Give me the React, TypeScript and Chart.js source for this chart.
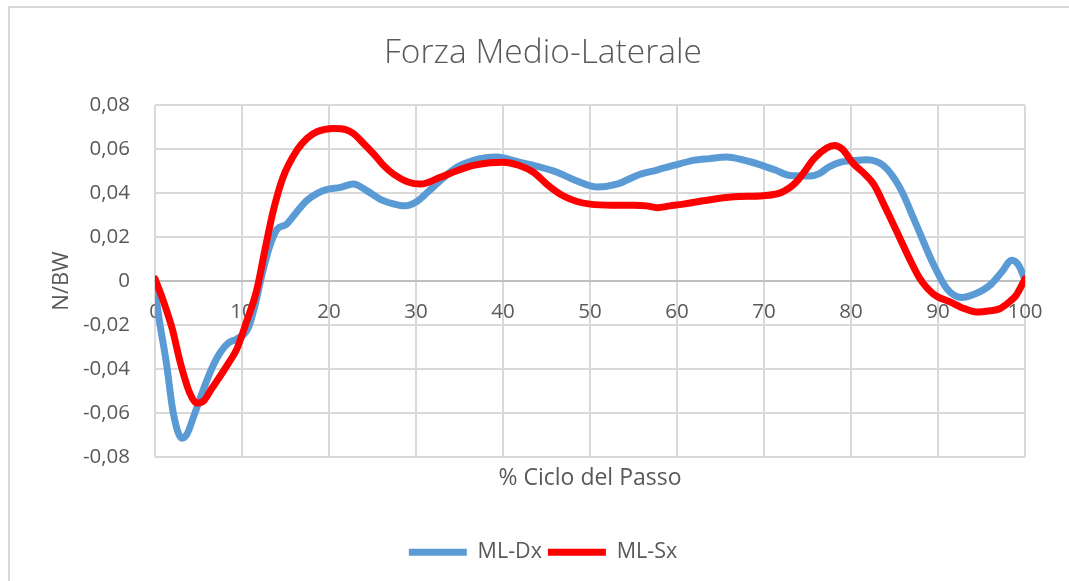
import React, { useEffect, useRef } from 'react';
import { Chart, registerables } from 'chart.js';

Chart.register(...registerables);

const chartTitle = 'Forza Medio-Laterale';
const xAxisTitle = '% Ciclo del Passo';
const yAxisTitle = 'N/BW';
const seriesNames = ['ML-Dx', 'ML-Sx'];

const dxX = [0, 0.5, 1.3, 2.1, 3.1, 3.7, 4.5, 5.5, 6.5, 7.5, 8.5, 9.4, 10.7, 11.5, 12.3, 13.2, 14, 15.1, 16.2, 17.4, 18.6, 19.7, 21.3, 22.8, 24.2, 25.9, 27.5, 28.7, 30.1, 31.5, 32.8, 34.6, 36.6, 38, 39.3, 41.5, 43.5, 46.2, 48.5, 50.8, 53.1, 55.7, 57.7, 59.6, 61.9, 63.8, 65.7, 67.5, 69.5, 71.3, 73, 75.3, 76.4, 77.5, 78.7, 80.3, 81.8, 83.7, 85.6, 87.5, 89.5, 91, 92.7, 94.3, 96, 97.3, 98.5, 99.3, 100];
const dxY = [-0.004, -0.018, -0.037, -0.06, -0.0715, -0.0695, -0.061, -0.05, -0.04, -0.0325, -0.028, -0.0264, -0.0215, -0.011, 0.003, 0.016, 0.0234, 0.0258, 0.031, 0.0365, 0.0398, 0.0416, 0.0426, 0.0441, 0.0415, 0.0372, 0.035, 0.0342, 0.0362, 0.041, 0.0457, 0.0515, 0.0549, 0.0561, 0.0564, 0.0545, 0.0526, 0.0495, 0.0455, 0.0428, 0.0441, 0.0485, 0.0505, 0.0526, 0.0549, 0.0557, 0.0564, 0.0552, 0.053, 0.0505, 0.048, 0.0478, 0.049, 0.052, 0.054, 0.0548, 0.0552, 0.0526, 0.0426, 0.0257, 0.0074, -0.0034, -0.0075, -0.0058, -0.0018, 0.004, 0.0095, 0.007, 0.0005];

const sxX = [0, 1, 2, 2.9, 4, 4.8, 5.6, 6.5, 7.5, 8.5, 9.4, 10.5, 11.7, 12.6, 13.6, 14.7, 16.3, 17.5, 18.6, 20.5, 22, 22.8, 24, 25.1, 26.3, 27.4, 29, 30.5, 32.8, 34.7, 36.6, 38.5, 40, 41.8, 43.5, 45.2, 46.9, 48.5, 50, 52.5, 55, 56.5, 57.7, 59.2, 60.7, 63, 66.5, 69.9, 71.8, 73, 73.8, 74.6, 75.7, 77.2, 78.1, 79, 80.3, 81.5, 82.6, 84, 85.6, 86.8, 87.9, 89.5, 91.4, 93, 94.4, 96, 97.1, 98.2, 99, 100];
const sxY = [0.001, -0.0095, -0.022, -0.037, -0.051, -0.0555, -0.0545, -0.049, -0.0432, -0.037, -0.031, -0.0187, -0.004, 0.0135, 0.032, 0.047, 0.0594, 0.065, 0.0679, 0.0694, 0.0688, 0.0671, 0.0625, 0.058, 0.0525, 0.0487, 0.0452, 0.0441, 0.0472, 0.0502, 0.0526, 0.0538, 0.0541, 0.0527, 0.0495, 0.0435, 0.0388, 0.0362, 0.035, 0.0345, 0.0345, 0.0342, 0.0334, 0.0342, 0.035, 0.0365, 0.0383, 0.0388, 0.04, 0.0426, 0.0455, 0.0495, 0.0555, 0.0605, 0.0617, 0.06, 0.0533, 0.049, 0.0441, 0.033, 0.0196, 0.0095, 0.0012, -0.006, -0.0095, -0.0125, -0.0141, -0.0135, -0.0126, -0.0095, -0.0064, 0.001];

const yMin = -0.08;
const yMax = 0.08;
const yStep = 0.02;
const xMin = 0;
const xMax = 100;
const xStep = 10;

const FONT = 'Open Sans';
const TEXT = '#595959';

const fmtY = (v: number) => (Math.abs(v) < 1e-9 ? '0' : v.toFixed(2).replace('.', ','));

export default function App() {
  const ref = useRef<HTMLCanvasElement>(null);
  useEffect(() => {
    document.body.style.margin = '0';
    const chart = new Chart(ref.current as HTMLCanvasElement, {
      type: 'line',
      data: {
        datasets: [
          {
            label: seriesNames[0],
            data: dxX.map((x, i) => ({ x, y: dxY[i] })),
            borderColor: '#5B9BD5',
            backgroundColor: '#5B9BD5',
            borderWidth: 7,
            borderCapStyle: 'round',
            borderJoinStyle: 'round',
            pointRadius: 0,
            cubicInterpolationMode: 'monotone',
            order: 1,
          },
          {
            label: seriesNames[1],
            data: sxX.map((x, i) => ({ x, y: sxY[i] })),
            borderColor: '#FF0000',
            backgroundColor: '#FF0000',
            borderWidth: 7,
            borderCapStyle: 'round',
            borderJoinStyle: 'round',
            pointRadius: 0,
            cubicInterpolationMode: 'monotone',
            order: 0,
          },
        ],
      },
      options: {
        animation: false,
        responsive: false,
        layout: { padding: { left: 0, right: 0, top: 0, bottom: 8 } },
        scales: {
          x: {
            type: 'linear',
            position: { y: 0 } as any,
            min: xMin,
            max: xMax,
            ticks: { stepSize: xStep, color: TEXT, font: { family: FONT, size: 20.5 }, padding: 18.5, maxRotation: 0 },
            grid: { color: '#d9d9d9', lineWidth: 2, drawTicks: false },
            border: { color: '#bfbfbf', width: 2 },
            afterFit: (s: any) => { s.height = 0; },
          },
          x2: {
            type: 'linear',
            position: 'bottom',
            min: xMin,
            max: xMax,
            ticks: { display: false },
            grid: { display: false, drawTicks: false },
            border: { display: false },
            title: { display: true, text: xAxisTitle, color: TEXT, font: { family: FONT, size: 23 }, padding: { top: 8.2, bottom: 42.8 } },
          },
          y: {
            type: 'linear',
            min: yMin,
            max: yMax,
            ticks: { stepSize: yStep, color: TEXT, font: { family: FONT, size: 20.5 }, padding: 25, callback: (v: any) => fmtY(Number(v)) },
            grid: {
              color: (c: any) => (c.tick && Math.abs(c.tick.value) < 1e-9 ? '#bfbfbf' : '#d9d9d9'),
              lineWidth: 2,
              drawTicks: false,
            },
            border: { display: false },
            title: { display: true, text: yAxisTitle, color: TEXT, font: { family: FONT, size: 22 }, padding: { top: 39, bottom: 0 } },
            afterFit: (s: any) => { s.width = 145; },
          },
          y2: {
            type: 'linear',
            position: 'right',
            min: yMin,
            max: yMax,
            ticks: { display: false },
            grid: { display: false, drawTicks: false },
            border: { display: false },
            afterFit: (s: any) => { s.width = 51; },
          },
        },
        plugins: {
          title: {
            display: true,
            text: chartTitle,
            color: TEXT,
            font: { family: FONT, size: 33.5, weight: '300' as any },
            padding: { top: 25, bottom: 32 },
          },
          legend: {
            position: 'bottom',
            labels: {
              usePointStyle: true,
              pointStyle: 'line',
              pointStyleWidth: 58,
              color: TEXT,
              font: { family: FONT, size: 21.5 },
              padding: 6,
              sort: (a: any, b: any) => a.datasetIndex - b.datasetIndex,
            },
          },
          tooltip: { enabled: false },
        },
      } as any,
    });
    return () => chart.destroy();
  }, []);
  return (
    <div style={{ position: 'absolute', left: 8, top: 6, width: 1070, height: 580, border: '2px solid #d9d9d9', background: '#fff' }}>
      <canvas ref={ref} width={1066} height={573} style={{ display: 'block', width: 1066, height: 573 }} />
    </div>
  );
}
